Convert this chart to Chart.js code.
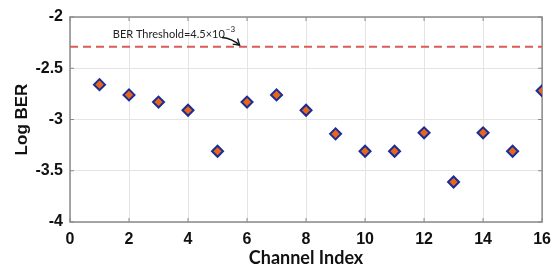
<!DOCTYPE html>
<html><head><meta charset="utf-8">
<script src="https://cdn.jsdelivr.net/npm/chart.js@4/dist/chart.umd.min.js"></script>
<style>html,body{margin:0;padding:0;background:#fff}#wrap{width:559px;height:277px}</style>
</head><body><div id="wrap"><canvas id="c"></canvas></div>
<script>
const channels = [1,2,3,4,5,6,7,8,9,10,11,12,13,14,15,16];
const logBER = [-2.66,-2.76,-2.83,-2.91,-3.31,-2.83,-2.76,-2.91,-3.14,-3.31,-3.31,-3.13,-3.61,-3.13,-3.31,-2.72];
const thresholdX = [0,16];
const thresholdY = [-2.29,-2.29];
const xTicks = [0,2,4,6,8,10,12,14,16];
const yTicks = [-4,-3.5,-3,-2.5,-2];
const annotationText = "BER Threshold=4.5×10";
const annotationSup = "−3";

const annoPlugin = {
  id:'anno',
  beforeDatasetsDraw(chart){
    const {ctx, chartArea:a} = chart;
    ctx.save();
    ctx.strokeStyle='#8a8a8a'; ctx.lineWidth=1.5;
    ctx.strokeRect(a.left, a.top, a.right-a.left, a.bottom-a.top);
    const xs = chart.scales.x, ys = chart.scales.y;
    ctx.lineWidth=1;
    ys.ticks.forEach(t=>{const y=ys.getPixelForValue(t.value);
      ctx.beginPath();ctx.moveTo(a.right,y);ctx.lineTo(a.right-4,y);ctx.stroke();
      ctx.beginPath();ctx.moveTo(a.left,y);ctx.lineTo(a.left+4,y);ctx.stroke();});
    xs.ticks.forEach(t=>{const x=xs.getPixelForValue(t.value);
      ctx.beginPath();ctx.moveTo(x,a.bottom);ctx.lineTo(x,a.bottom-4);ctx.stroke();
      ctx.beginPath();ctx.moveTo(x,a.top);ctx.lineTo(x,a.top+4);ctx.stroke();});
    ctx.restore();
  },
  afterDatasetsDraw(chart){
    const {ctx} = chart;
    const xs = chart.scales.x, ys = chart.scales.y;
    ctx.save();
    const tx = xs.getPixelForValue(1.45), ty = ys.getPixelForValue(-2.17);
    ctx.fillStyle='#222';
    ctx.font='11px Lato';
    ctx.textBaseline='middle';
    ctx.fillText(annotationText, tx, ty);
    const w = ctx.measureText(annotationText).width;
    ctx.font='8px Lato';
    ctx.fillText(annotationSup, tx+w+1, ty-5);
    const x1 = xs.getPixelForValue(5.15), y1 = ys.getPixelForValue(-2.2);
    const x2 = xs.getPixelForValue(5.75), y2 = ys.getPixelForValue(-2.275);
    const cx = x1+10, cy = y1+1;
    ctx.strokeStyle='#111'; ctx.lineWidth=1.3;
    ctx.beginPath();
    ctx.moveTo(x1,y1);
    ctx.quadraticCurveTo(cx,cy,x2,y2);
    ctx.stroke();
    const ang = Math.atan2(y2-cy, x2-cx);
    ctx.beginPath();
    ctx.moveTo(x2-7*Math.cos(ang-0.55), y2-7*Math.sin(ang-0.55));
    ctx.lineTo(x2,y2);
    ctx.lineTo(x2-7*Math.cos(ang+0.55), y2-7*Math.sin(ang+0.55));
    ctx.stroke();
    ctx.restore();
  }
};

new Chart(document.getElementById('c'), {
  type:'scatter',
  data:{datasets:[
    {data:thresholdX.map((x,i)=>({x, y:thresholdY[i]})), showLine:true, borderColor:'#dc5a5a',
     borderWidth:2, borderDash:[8,5], pointRadius:0, fill:false, order:2},
    {data:channels.map((c,i)=>({x:c, y:logBER[i]})), pointStyle:'rectRot', pointRadius:5.5,
     backgroundColor:'#e8661c', borderColor:'#1b2d94', borderWidth:2, order:1}
  ]},
  options:{
    responsive:true, maintainAspectRatio:false, animation:false,
    layout:{padding:{left:0,right:16,top:17,bottom:0}},
    plugins:{legend:{display:false}, tooltip:{enabled:false}},
    scales:{
      x:{type:'linear', min:0, max:16,
        afterBuildTicks(s){s.ticks = xTicks.map(v=>({value:v}));},
        afterFit(s){s.height=55;},
        grid:{color:'#e4e4e4', drawTicks:false},
        border:{display:false},
        ticks:{font:{family:'Liberation Sans, Arial', size:16, weight:'bold'}, color:'#111', padding:8, maxRotation:0,
          callback:v=>String(v)},
        title:{display:true, text:'Channel Index', font:{family:'Lato', size:18, weight:'bold'}, color:'#111', padding:{top:0,bottom:8}}
      },
      y:{type:'linear', min:-4, max:-2,
        afterBuildTicks(s){s.ticks = yTicks.map(v=>({value:v}));},
        afterFit(s){s.width=70;},
        grid:{color:'#e4e4e4', drawTicks:false},
        border:{display:false},
        ticks:{font:{family:'Liberation Sans, Arial', size:16, weight:'bold'}, color:'#111', padding:7,
          callback:v=>String(v)},
        title:{display:true, text:'Log BER', font:{family:'Liberation Sans, Arial', size:17, weight:'bold'}, color:'#111', padding:{top:12,bottom:0}}
      }
    }
  },
  plugins:[annoPlugin]
});
</script></body></html>
